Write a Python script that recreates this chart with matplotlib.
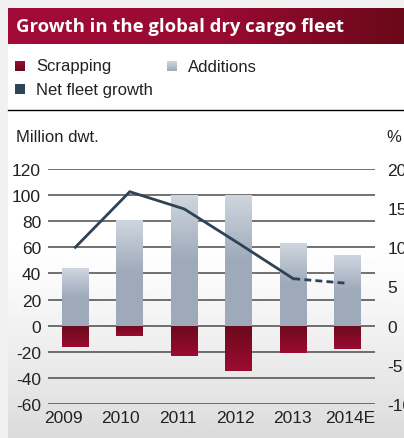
import numpy as np
import matplotlib
matplotlib.use("Agg")
import matplotlib.pyplot as plt
import matplotlib.transforms as mtransforms
from matplotlib.colors import LinearSegmentedColormap
from matplotlib.patches import Rectangle

# ---- data ----
years = ["2009", "2010", "2011", "2012", "2013", "2014E"]
additions = [44, 81, 100, 100, 63, 54]
scrapping = [-16, -8, -23, -35, -21, -18]
net_growth = [10.0, 17.1, 14.9, 10.5, 6.0, 5.4]   # percent
left_ticks = [-60, -40, -20, 0, 20, 40, 60, 80, 100, 120]
right_ticks = [-10, -5, 0, 5, 10, 15, 20]

W, H = 404, 439
DPI = 100
plt.rcParams['font.family'] = ['Liberation Sans', 'DejaVu Sans']

fig = plt.figure(figsize=(W / DPI, H / DPI), dpi=DPI, facecolor="#f1f1f1")

def fx(px):
    return px / W

def fy(py):
    return 1 - py / H

# panel background (white -> light gray gradient)
bg = fig.add_axes([fx(8), 0, fx(W - 8), fy(45)])
bg.set_axis_off()
t = np.linspace(0, 1, 256)
g = np.clip((t - 0.5) / 0.5, 0, 1) ** 1.2
vals = 1.0 - 0.14 * g
bg.imshow(np.repeat(vals[:, None], 2, axis=1), cmap="gray", vmin=0, vmax=1,
          aspect="auto", extent=[0, 1, 0, 1], origin="upper")
bg.set_xlim(0, 1); bg.set_ylim(0, 1)

# title bar with horizontal gradient
tb = fig.add_axes([fx(8), fy(45), fx(W - 8), (45 - 9) / H])
tb.set_axis_off()
red_cmap = LinearSegmentedColormap.from_list(
    "tred", [(0, "#a30b38"), (0.55, "#980a32"), (1, "#6a0818")])
tb.imshow(np.linspace(0, 1, 256)[None, :], cmap=red_cmap, aspect="auto",
          extent=[0, 1, 0, 1])
tb.set_xlim(0, 1); tb.set_ylim(0, 1)
fig.text(fx(16), fy(27), "Growth in the global dry cargo fleet", color="white",
         fontsize=13.3, fontweight="bold", va="center", ha="left",
         family=["Open Sans", "DejaVu Sans"])

# legend
red_grad = LinearSegmentedColormap.from_list("rg", ["#9c0b30", "#6a0a1c"])
gray_grad = LinearSegmentedColormap.from_list("gg", ["#d0d6df", "#9eaaba"])

def legend_square(px, py, cmap=None, color=None):
    a = fig.add_axes([fx(px), fy(py + 10), fx(10), 10 / H])
    a.set_axis_off()
    if cmap is not None:
        a.imshow(np.linspace(0, 1, 32)[:, None], cmap=cmap, aspect="auto",
                 extent=[0, 1, 0, 1])
    else:
        a.add_patch(Rectangle((0, 0), 1, 1, color=color))
    a.set_xlim(0, 1); a.set_ylim(0, 1)

legend_square(15, 62, cmap=red_grad)
fig.text(fx(36), fy(67), "Scrapping", fontsize=12, va="center", color="#222222")
legend_square(167, 62, cmap=gray_grad)
fig.text(fx(188), fy(67), "Additions", fontsize=12, va="center", color="#222222")
legend_square(15, 85, color="#2f4456")
fig.text(fx(36), fy(90), "Net fleet growth", fontsize=12, va="center", color="#222222")

# separator line
fig.add_artist(plt.Line2D([fx(8), 1], [fy(111), fy(111)], color="black", lw=1.0))

fig.text(fx(16), fy(137), "Million dwt.", fontsize=12, va="center", color="#222222")
fig.text(fx(386), fy(137), "%", fontsize=12, va="center", color="#222222")

# main axes
ax = fig.add_axes([fx(48), fy(405), fx(375 - 48), (405 - 170) / H])
ax.patch.set_alpha(0)
ax.set_xlim(-0.5, len(years) - 0.5)
ax.set_ylim(-60, 120)
for s in ax.spines.values():
    s.set_visible(False)
ax.set_yticks(left_ticks)
ax.set_yticklabels([str(v) for v in left_ticks])
ax.set_xticks(range(len(years)))
ax.set_xticklabels(years)
ax.tick_params(axis="both", length=0, labelsize=12.5, colors="#222222")
ax.tick_params(axis="y", pad=5)
ax.tick_params(axis="x", pad=4)
# year labels in the reference are spaced a little wider than the bars
for i, lab in enumerate(ax.get_xticklabels()):
    dx = (-12.0 + 2.9 * i) / DPI
    lab.set_transform(lab.get_transform() +
                      mtransforms.ScaledTranslation(dx, 0, fig.dpi_scale_trans))
for v in left_ticks:
    ax.axhline(v, color="#4a4a4a", lw=1.1, zorder=1)

x = np.arange(len(years))
bw = 0.49
add_bars = ax.bar(x, additions, width=bw, color="none", zorder=2)
scr_bars = ax.bar(x, scrapping, width=bw, color="none", zorder=2)

add_grad_vals = np.clip(np.linspace(0, 1, 128) / 0.5, 0, 1)[:, None]
for rect, v in zip(add_bars, additions):
    x0 = rect.get_x()
    im = ax.imshow(add_grad_vals, cmap=gray_grad, aspect="auto",
                   extent=[x0, x0 + rect.get_width(), 0, v], origin="upper",
                   zorder=2, vmin=0, vmax=1)
    im.set_clip_path(rect)
for rect, v in zip(scr_bars, scrapping):
    x0 = rect.get_x()
    im = ax.imshow(np.linspace(0, 1, 128)[:, None], cmap=red_grad, aspect="auto",
                   extent=[x0, x0 + rect.get_width(), v, 0], origin="lower",
                   zorder=2, vmin=0, vmax=1)
    im.set_clip_path(rect)
ax.set_xlim(-0.5, len(years) - 0.5)
ax.set_ylim(-60, 120)

# secondary axis for net growth
ax2 = ax.twinx()
ax2.set_ylim(-10, 20)
for s in ax2.spines.values():
    s.set_visible(False)
ax2.set_yticks(right_ticks)
ax2.set_yticklabels([str(v) for v in right_ticks])
ax2.tick_params(axis="y", length=0, labelsize=12.5, colors="#222222", pad=9)
line_c = "#2e4356"
ax2.plot(x[:5], net_growth[:5], color=line_c, lw=2.0, zorder=5,
         solid_joinstyle="miter")
ax2.plot(x[4:], net_growth[4:], color=line_c, lw=2.0, ls=(0, (2.5, 1.5)), zorder=5)

fig.savefig("out.png", dpi=DPI, facecolor=fig.get_facecolor())
